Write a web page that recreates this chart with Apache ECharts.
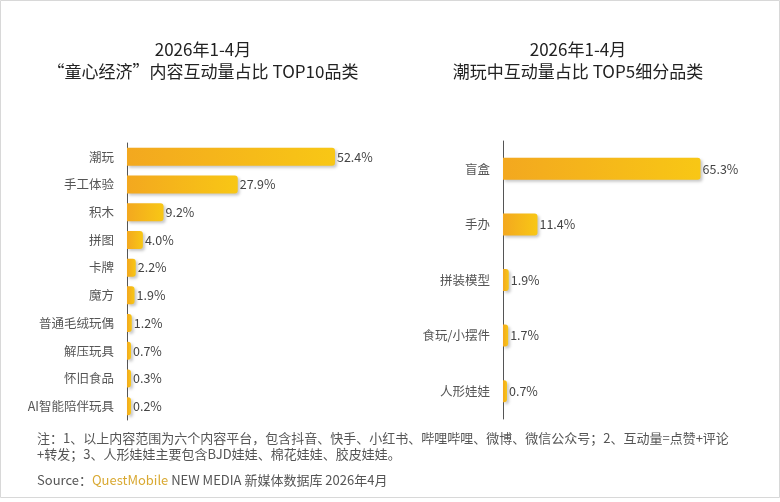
<!DOCTYPE html>
<html><head><meta charset="utf-8">
<script src="https://cdn.jsdelivr.net/npm/echarts@6/dist/echarts.min.js"></script>
<style>html,body{margin:0;padding:0;background:#fff}#c{width:780px;height:502px}</style>
</head><body><div id="c"></div>
<script>
const leftCategories = ['潮玩','手工体验','积木','拼图','卡牌','魔方','普通毛绒玩偶','解压玩具','怀旧食品','AI智能陪伴玩具'];
const leftValues = [52.4, 27.9, 9.2, 4.0, 2.2, 1.9, 1.2, 0.7, 0.3, 0.2];
const rightCategories = ['盲盒','手办','拼装模型','食玩/小摆件','人形娃娃'];
const rightValues = [65.3, 11.4, 1.9, 1.7, 0.7];
const leftTitle = ['2026年1-4月', '“童心经济”内容互动量占比 TOP10品类'];
const rightTitle = ['2026年1-4月', '潮玩中互动量占比 TOP5细分品类'];
const noteLines = ['注：1、以上内容范围为六个内容平台，包含抖音、快手、小红书、哔哩哔哩、微博、微信公众号；2、互动量=点赞+评论', '+转发；3、人形娃娃主要包含BJD娃娃、棉花娃娃、胶皮娃娃。'];

const FONT = '"Noto Sans CJK SC", "Noto Sans", sans-serif';
const chart = echarts.init(document.getElementById('c'), null, {renderer: 'canvas'});
const barColor = new echarts.graphic.LinearGradient(0, 0, 1, 0, [
  {offset: 0, color: '#f3a81f'}, {offset: 1, color: '#f8c715'}
]);
const itemStyle = {
  color: barColor, borderRadius: [0, 3, 3, 0],
  shadowColor: 'rgba(0,0,0,0.22)', shadowBlur: 3, shadowOffsetX: 2, shadowOffsetY: 2
};
const labelStyle = {show: true, position: 'right', distance: 2, color: '#444', fontSize: 12.5, fontFamily: FONT, formatter: p => p.value.toFixed(1) + '%'};
const yAxisCommon = {
  type: 'category', inverse: true,
  axisLine: {show: true, lineStyle: {color: '#555', width: 1}},
  axisTick: {show: false},
  axisLabel: {color: '#555', fontSize: 12.5, fontFamily: FONT, margin: 13}
};
const xAxisCommon = {type: 'value', min: 0, show: false, splitLine: {show: false}};
const titleText = {fontSize: 17, fontWeight: 'normal', color: '#222', lineHeight: 22, fontFamily: FONT};

chart.setOption({
  backgroundColor: '#fff',
  animation: false,
  textStyle: {fontFamily: FONT},
  title: [
    {text: leftTitle.join('\n'), left: 203, top: 39, padding: 0, textAlign: 'center', textStyle: titleText},
    {text: rightTitle.join('\n'), left: 578, top: 39, padding: 0, textAlign: 'center', textStyle: titleText}
  ],
  grid: [
    {left: 127, top: 143, width: 258, height: 277},
    {left: 503, top: 141, width: 242, height: 278}
  ],
  xAxis: [
    Object.assign({gridIndex: 0, max: 65}, xAxisCommon),
    Object.assign({gridIndex: 1, max: 80}, xAxisCommon)
  ],
  yAxis: [
    Object.assign({gridIndex: 0, data: leftCategories}, yAxisCommon),
    Object.assign({gridIndex: 1, data: rightCategories}, yAxisCommon)
  ],
  series: [
    {type: 'bar', xAxisIndex: 0, yAxisIndex: 0, data: leftValues, barWidth: 18, barMinHeight: 4, itemStyle, label: labelStyle},
    {type: 'bar', xAxisIndex: 1, yAxisIndex: 1, data: rightValues, barWidth: 22, barMinHeight: 4, itemStyle, label: labelStyle}
  ],
  graphic: [
    {type: 'rect', shape: {x: 0.5, y: 0.5, width: 779, height: 497}, style: {fill: 'none', stroke: '#d8d8d8', lineWidth: 1}, silent: true},
    {type: 'text', left: 37, top: 430, style: {text: noteLines.join('\n'), fill: '#555', fontSize: 13, lineHeight: 16, fontFamily: FONT}},
    {type: 'text', left: 37, top: 474, style: {
      text: '{a|Source：}{q|QuestMobile}{a| NEW MEDIA 新媒体数据库 2026年4月}',
      rich: {
        a: {fill: '#555', fontSize: 13, fontFamily: FONT},
        q: {fill: '#d9a932', fontSize: 13, fontFamily: FONT}
      }
    }}
  ]
});
</script></body></html>
